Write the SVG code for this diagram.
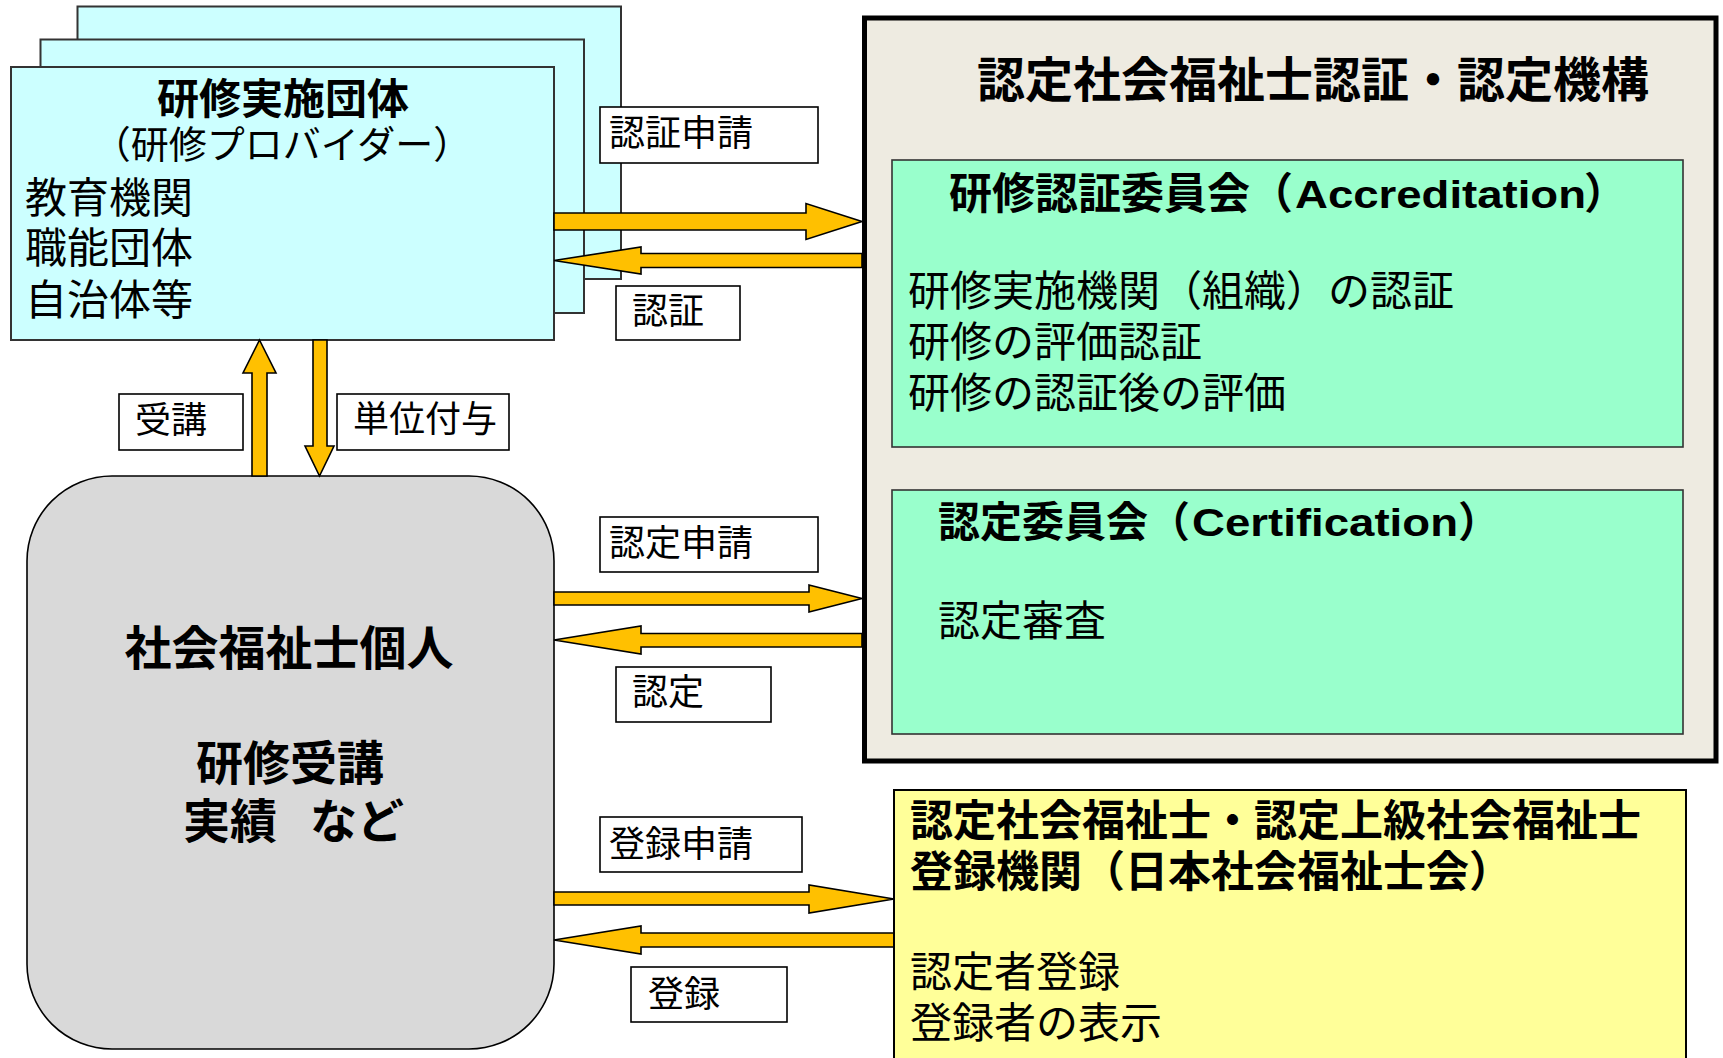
<svg xmlns="http://www.w3.org/2000/svg" width="1723" height="1058" viewBox="0 0 1723 1058">
<style>
text{font-family:"Noto Sans CJK JP","Noto Sans CJK SC",sans-serif;fill:#000}
.b{font-weight:bold}
.lat{font-family:"Liberation Sans",Arial,sans-serif;font-weight:bold}
.prov{fill:#CCFFFF;stroke:#333;stroke-width:2}
.lbl{fill:#fff;stroke:#000;stroke-width:1.6}
.lt{font-size:36px}
.arr{fill:#FFC000;stroke:#000;stroke-width:1.6;stroke-linejoin:miter}
.com{fill:#99FFCC;stroke:#333;stroke-width:1.6}
</style>
<rect width="1723" height="1058" fill="#fff"/>

<g id="provider">
<rect class="prov" x="77.5" y="6.5" width="543.5" height="272.5"/>
<rect class="prov" x="40.5" y="39.5" width="543.5" height="273.5"/>
<rect class="prov" x="11" y="67" width="543" height="273"/>
<text class="b" x="283" y="114" font-size="42" text-anchor="middle">研修実施団体</text>
<text x="282" y="158" font-size="38" text-anchor="middle">（研修プロバイダー）</text>
<text x="25" y="213" font-size="42">教育機関</text>
<text x="25" y="263" font-size="42">職能団体</text>
<text x="25" y="315" font-size="42">自治体等</text>
</g>

<g id="individual">
<rect x="27" y="476" width="527" height="573" rx="85" ry="85" fill="#D9D9D9" stroke="#000" stroke-width="1.6"/>
<text class="b" x="289" y="665" font-size="47" text-anchor="middle">社会福祉士個人</text>
<text class="b" x="290" y="780" font-size="47" text-anchor="middle">研修受講</text>
<text class="b" x="183" y="838" font-size="47"><tspan>実績　</tspan><tspan x="310">など</tspan></text>
</g>

<g id="connectors">
<polygon class="arr" points="554,213 806,213 806,203.5 862,221.5 806,239.5 806,230 554,230"/>
<polygon class="arr" points="554,260.5 641,247 641,253.5 862,253.5 862,267.5 641,267.5 641,274"/>
<polygon class="arr" points="259.5,340 276,373 267,373 267,476 252,476 252,373 243,373"/>
<polygon class="arr" points="313,340 327,340 327,446 334,446 319.5,476 305,446 313,446"/>
<polygon class="arr" points="554,592 809,592 809,585 862,598.5 809,612 809,605 554,605"/>
<polygon class="arr" points="554,640 641,626 641,633.5 862,633.5 862,647 641,647 641,654"/>
<polygon class="arr" points="554,892 809,892 809,885 894,899 809,913 809,905 554,905"/>
<polygon class="arr" points="554,940 641,926 641,933 894,933 894,947 641,947 641,954"/>
</g>

<g id="label-ninsho-shinsei"><rect class="lbl" x="600" y="107" width="218" height="56"/><text class="lt" x="609" y="146">認証申請</text></g>
<g id="label-ninsho"><rect class="lbl" x="616" y="286" width="124" height="54"/><text class="lt" x="632" y="324">認証</text></g>
<g id="label-jukou"><rect class="lbl" x="119" y="394" width="124" height="56"/><text class="lt" x="135" y="433">受講</text></g>
<g id="label-tani"><rect class="lbl" x="337" y="394" width="172" height="56"/><text class="lt" x="353" y="432">単位付与</text></g>
<g id="label-nintei-shinsei"><rect class="lbl" x="600" y="517" width="218" height="55"/><text class="lt" x="609" y="556">認定申請</text></g>
<g id="label-nintei"><rect class="lbl" x="616" y="667" width="155" height="55"/><text class="lt" x="632" y="705">認定</text></g>
<g id="label-touroku-shinsei"><rect class="lbl" x="600" y="817" width="202" height="55"/><text class="lt" x="609" y="857">登録申請</text></g>
<g id="label-touroku"><rect class="lbl" x="631" y="967" width="156" height="55"/><text class="lt" x="648" y="1007">登録</text></g>

<g id="organization">
<rect x="864.5" y="18" width="851.5" height="743" fill="#EEEBE1" stroke="#000" stroke-width="5"/>
<text class="b" x="1313" y="97" font-size="48" text-anchor="middle">認定社会福祉士認証・認定機構</text>
</g>

<g id="accreditation">
<rect class="com" x="892" y="160" width="791" height="287"/>
<text class="b" x="949" y="209" font-size="43">研修認証委員会（</text>
<text class="lat" x="1295" y="208" font-size="39" textLength="291" lengthAdjust="spacingAndGlyphs">Accreditation</text>
<text class="b" x="1584" y="209" font-size="43">）</text>
<text x="908" y="306" font-size="42">研修実施機関（組織）の認証</text>
<text x="908" y="357" font-size="42">研修の評価認証</text>
<text x="908" y="408" font-size="42">研修の認証後の評価</text>
</g>

<g id="certification">
<rect class="com" x="892" y="490" width="791" height="244"/>
<text class="b" x="938" y="537" font-size="42">認定委員会（</text>
<text class="lat" x="1192" y="536" font-size="39" textLength="266" lengthAdjust="spacingAndGlyphs">Certification</text>
<text class="b" x="1458" y="537" font-size="42">）</text>
<text x="938" y="636" font-size="42">認定審査</text>
</g>

<g id="registry">
<rect x="894" y="790" width="792" height="290" fill="#FFFF99" stroke="#000" stroke-width="2"/>
<text class="b" x="910" y="836" font-size="43">認定社会福祉士・認定上級社会福祉士</text>
<text class="b" x="910" y="887" font-size="43">登録機関（日本社会福祉士会）</text>
<text x="910" y="987" font-size="42">認定者登録</text>
<text x="910" y="1038" font-size="42">登録者の表示</text>
</g>
</svg>
